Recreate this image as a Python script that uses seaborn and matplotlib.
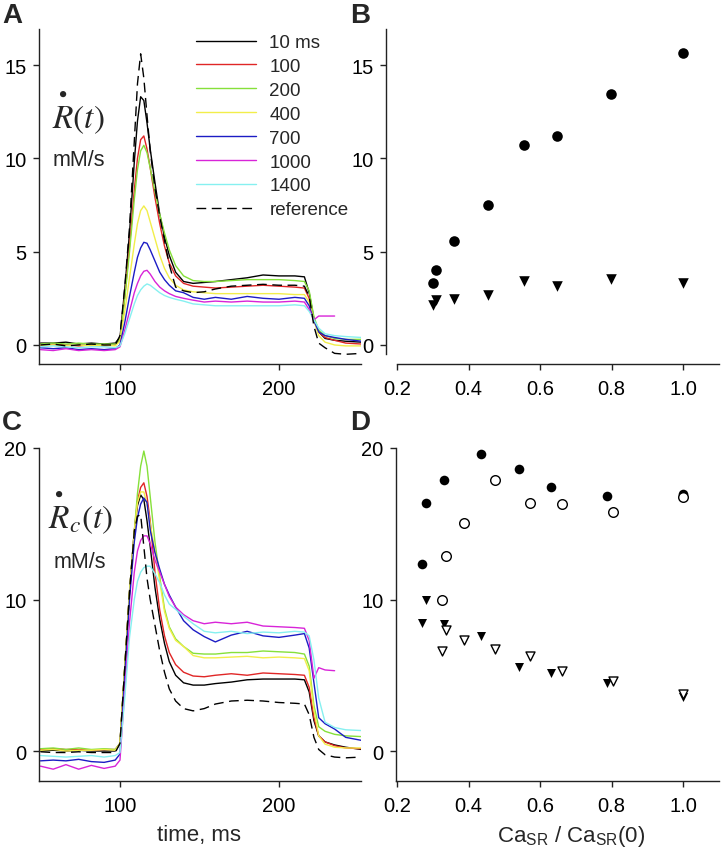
import matplotlib
matplotlib.use('Agg')
import matplotlib.pyplot as plt
import numpy as np
import pandas as pd
import seaborn as sns

sns.set_theme(style="ticks")
plt.rcParams['font.family'] = ['Liberation Sans', 'DejaVu Sans']

W, H = 721, 853

# time grid shared by every trace (ms)
time_ms = [50, 58, 66, 74, 82, 90, 97, 100, 103, 106, 109, 111, 113, 115, 117, 119, 122, 125, 128,
           131, 135, 140, 146, 153, 160, 170, 180, 190, 200, 210, 216, 219, 222, 225, 229, 235, 242, 252]
nan = np.nan

series_names = ["10 ms", "100", "200", "400", "700", "1000", "1400", "reference"]
series_colors = ["#000000", "#e02626", "#86e03a", "#f2ee4a", "#1c1cc4", "#d824d8", "#86f0f0", "#000000"]

# panel A: release flux R(t), mM/s
a_10ms = [0.1, 0.1, 0.15, 0.05, 0.1, 0.05, 0.1, 0.4, 3.0, 6.0, 9.8, 12.0, 13.3, 13.1, 11.9, 10.5, 8.7, 7.0, 5.8,
          4.8, 3.9, 3.4, 3.3, 3.35, 3.4, 3.5, 3.6, 3.75, 3.7, 3.7, 3.65, 2.8, 1.4, 0.7, 0.35, 0.25, 0.2, 0.15]
a_100 = [0.0, 0.05, 0.0, -0.05, 0.0, -0.05, 0.0, 0.3, 2.6, 5.3, 8.3, 10.0, 11.0, 11.2, 10.5, 9.5, 7.9, 6.5, 5.3,
         4.4, 3.7, 3.3, 3.15, 3.1, 3.05, 3.1, 3.15, 3.2, 3.15, 3.1, 3.05, 2.5, 1.3, 0.7, 0.4, 0.25, 0.1, 0.05]
a_200 = [0.05, 0.1, 0.05, 0.1, 0.05, 0.05, 0.05, 0.3, 2.5, 5.0, 7.8, 9.4, 10.4, 10.7, 10.3, 9.5, 8.2, 7.0, 6.0,
         5.1, 4.25, 3.7, 3.45, 3.4, 3.4, 3.45, 3.5, 3.5, 3.5, 3.45, 3.4, 2.9, 1.5, 0.8, 0.5, 0.35, 0.3, 0.3]
a_400 = [0.0, 0.0, -0.05, 0.0, -0.05, 0.0, -0.05, 0.2, 1.8, 3.6, 5.4, 6.5, 7.2, 7.45, 7.2, 6.6, 5.7, 4.8, 4.1,
         3.6, 3.2, 2.95, 2.85, 2.8, 2.75, 2.75, 2.75, 2.75, 2.75, 2.7, 2.7, 2.3, 1.3, 0.5, 0.15, 0.0, -0.05, -0.05]
a_700 = [-0.15, -0.2, -0.15, -0.25, -0.2, -0.25, -0.2, 0.0, 1.2, 2.6, 3.9, 4.7, 5.2, 5.5, 5.45, 5.1, 4.5, 3.9, 3.5,
         3.2, 2.9, 2.8, 2.55, 2.45, 2.55, 2.45, 2.6, 2.5, 2.45, 2.55, 2.5, 2.1, 1.3, 0.7, 0.5, 0.4, 0.3, 0.2]
a_1000 = [-0.25, -0.3, -0.2, -0.3, -0.25, -0.3, -0.25, -0.1, 0.8, 1.8, 2.8, 3.3, 3.7, 3.95, 4.0, 3.8, 3.4, 3.1, 2.9,
          2.75, 2.6, 2.5, 2.4, 2.3, 2.35, 2.3, 2.35, 2.3, 2.3, 2.35, 2.3, 1.9, 1.35, 1.55, 1.55, 1.55, nan, nan]
a_1400 = [-0.1, -0.05, -0.1, -0.15, -0.1, -0.1, -0.15, -0.05, 0.6, 1.4, 2.2, 2.65, 2.95, 3.15, 3.27, 3.2, 3.0, 2.8, 2.65,
          2.55, 2.45, 2.35, 2.2, 2.15, 2.1, 2.1, 2.1, 2.1, 2.1, 2.15, 2.1, 1.8, 1.35, 0.9, 0.6, 0.5, 0.45, 0.4]
a_ref = [0.0, 0.05, -0.05, 0.0, 0.05, 0.0, 0.0, 0.5, 3.1, 6.3, 10.9, 14.0, 15.6, 14.3, 12.3, 10.4, 8.4, 6.9, 5.6,
         4.3, 3.1, 2.9, 2.8, 2.85, 3.0, 3.15, 3.2, 3.25, 3.2, 3.2, 3.15, 2.6, 1.0, 0.1, -0.15, -0.45, -0.5, -0.45]

# panel C: corrected release flux Rc(t), mM/s
c_10ms = [0.0, 0.05, 0.0, 0.05, 0.0, 0.0, 0.0, 0.5, 5.5, 10.5, 14.5, 16.2, 16.9, 16.6, 15.2, 13.5, 10.8, 8.7, 7.1,
          5.9, 5.0, 4.5, 4.35, 4.35, 4.45, 4.55, 4.7, 4.75, 4.75, 4.75, 4.7, 3.9, 2.0, 1.0, 0.6, 0.4, 0.25, 0.1]
c_100 = [0.1, 0.15, 0.1, 0.1, 0.05, 0.1, 0.1, 0.5, 5.5, 10.5, 14.5, 16.5, 17.4, 17.7, 16.8, 15.2, 11.8, 9.3, 7.6,
         6.5, 5.7, 5.2, 4.95, 4.9, 5.0, 5.1, 5.0, 5.15, 5.1, 5.05, 5.0, 4.2, 2.2, 1.0, 0.6, 0.35, 0.2, 0.15]
c_200 = [0.15, 0.2, 0.1, 0.2, 0.1, 0.15, 0.1, 0.5, 5.5, 10.5, 14.5, 17.0, 18.8, 19.8, 18.8, 16.8, 13.8, 11.5, 9.4,
         8.2, 7.4, 6.9, 6.45, 6.4, 6.4, 6.5, 6.5, 6.6, 6.55, 6.5, 6.4, 5.6, 3.0, 1.6, 1.3, 1.1, 1.0, 0.95]
c_400 = [0.05, 0.1, 0.0, 0.05, 0.05, 0.1, 0.05, 0.5, 5.5, 10.5, 14.5, 16.4, 17.1, 17.1, 16.3, 15.0, 13.2, 11.2, 9.2,
         8.1, 7.3, 6.9, 6.3, 6.15, 6.15, 6.2, 6.25, 6.15, 6.2, 6.15, 6.1, 5.3, 2.7, 1.0, 0.45, 0.25, 0.2, 0.2]
c_700 = [-0.65, -0.6, -0.65, -0.55, -0.7, -0.75, -0.6, -0.2, 5.0, 10.0, 13.8, 15.4, 16.3, 16.7, 16.4, 14.6, 13.1, 12.0, 11.0,
         10.3, 9.5, 8.6, 8.0, 7.55, 7.2, 7.65, 7.9, 7.6, 7.5, 7.65, 7.75, 6.8, 4.5, 2.2, 1.8, 1.45, 0.9, 0.7]
c_1000 = [-1.0, -1.2, -0.9, -1.2, -0.95, -1.15, -1.0, -0.6, 4.0, 8.5, 11.8, 13.2, 13.9, 14.2, 14.2, 13.7, 12.6, 11.8, 11.0,
          10.2, 9.5, 9.0, 8.6, 8.4, 8.5, 8.4, 8.5, 8.25, 8.2, 8.15, 8.1, 7.3, 4.8, 5.5, 5.35, 5.3, nan, nan]
c_1400 = [-0.3, -0.35, -0.4, -0.35, -0.3, -0.4, -0.3, -0.1, 3.5, 7.5, 10.0, 11.2, 11.8, 12.1, 12.2, 12.2, 11.7, 11.1, 10.3,
          9.7, 9.35, 8.9, 8.4, 7.9, 7.8, 7.9, 7.75, 7.85, 7.8, 7.9, 7.85, 7.6, 6.0, 3.5, 1.9, 1.55, 1.4, 1.35]
c_ref = [-0.05, -0.1, -0.1, -0.05, -0.1, -0.1, -0.1, 0.5, 5.5, 10.5, 14.5, 15.5, 15.6, 13.5, 11.4, 10.0, 8.3, 6.6, 5.2,
         4.1, 3.3, 2.8, 2.65, 2.8, 3.1, 3.3, 3.35, 3.3, 3.2, 3.15, 3.1, 2.4, 0.9, 0.1, -0.25, -0.4, -0.45, -0.4]

# panel B: peak and plateau of R vs Ca_SR / Ca_SR(0)
b_ratio = [0.30, 0.31, 0.36, 0.455, 0.555, 0.647, 0.797, 1.0]
b_peak = [3.3, 4.0, 5.55, 7.5, 10.7, 11.2, 13.45, 15.65]
b_plateau = [2.15, 2.4, 2.45, 2.7, 3.45, 3.15, 3.55, 3.3]

# panel D: peak and plateau of Rc, two series (filled / open)
d_ratio_filled = [0.27, 0.282, 0.332, 0.434, 0.54, 0.631, 0.788, 1.0]
d_peak_filled = [12.35, 16.35, 17.9, 19.6, 18.6, 17.45, 16.85, 16.95]
d_plateau_filled = [8.45, 9.95, 8.4, 7.6, 5.55, 5.15, 4.5, 3.55]
d_ratio_open = [0.326, 0.336, 0.386, 0.475, 0.573, 0.66, 0.805, 1.0]
d_peak_open = [9.99, 12.9, 15.05, 17.9, 16.35, 16.3, 15.75, 16.75]
d_plateau_open = [6.6, 8.0, 7.35, 6.75, 6.25, 5.25, 4.6, 3.75]


def long_frame(traces):
    rows = []
    for name, vals in zip(series_names, traces):
        rows.append(pd.DataFrame({"time": time_ms, "rate": vals, "series": name}))
    return pd.concat(rows, ignore_index=True)


df_a = long_frame([a_10ms, a_100, a_200, a_400, a_700, a_1000, a_1400, a_ref])
df_c = long_frame([c_10ms, c_100, c_200, c_400, c_700, c_1000, c_1400, c_ref])
palette = dict(zip(series_names, series_colors))
dash_map = {n: "" for n in series_names}
dash_map["reference"] = (7, 4)

fig = plt.figure(figsize=(W / 100, H / 100), dpi=100)


def px_axes(l, t, r, b):
    return fig.add_axes([l / W, 1 - b / H, (r - l) / W, (b - t) / H])


def style_axes(ax):
    for side in ["top", "right"]:
        ax.spines[side].set_visible(False)
    for side in ["left", "bottom"]:
        ax.spines[side].set_color("#222222")
        ax.spines[side].set_linewidth(1.0)
    ax.tick_params(direction="out", length=4, width=1.0, color="#222222", labelsize=14.5,
                   labelcolor="black")
    ax.tick_params(axis="x", pad=7)
    ax.tick_params(axis="y", pad=5)
    ax.set_xlabel("")
    ax.set_ylabel("")


ax_a = px_axes(39, 30, 361, 365)
ax_b = px_axes(386, 30, 719, 365)
ax_c = px_axes(39, 449, 361, 782)
ax_d = px_axes(396, 449, 719, 782)

for ax, df in [(ax_a, df_a), (ax_c, df_c)]:
    sns.lineplot(data=df, x="time", y="rate", hue="series", style="series",
                 hue_order=series_names, style_order=series_names, palette=palette,
                 dashes=dash_map, linewidth=1.0, estimator=None, sort=False,
                 legend=(ax is ax_a), ax=ax)
    ax.set_xlim(49.06, 251.6)
    ax.set_xticks([100, 200])
    style_axes(ax)

ax_a.set_ylim(-1.02, 16.93)
ax_a.set_yticks([0, 5, 10, 15])
ax_c.set_ylim(-1.98, 20.0)
ax_c.set_yticks([0, 10, 20])

handles, labels = ax_a.get_legend_handles_labels()
ax_a.legend(handles, labels, loc="upper left", bbox_to_anchor=(0.488, 0.985), frameon=False,
            fontsize=13.5, handlelength=3.2, handletextpad=0.7, labelspacing=0.36,
            borderpad=0, borderaxespad=0)

# scatter panels
sns.scatterplot(x=b_ratio, y=b_peak, marker="o", color="black", s=58, linewidth=0, ax=ax_b)
sns.scatterplot(x=b_ratio, y=b_plateau, marker="v", color="black", s=58, linewidth=0, ax=ax_b)
ax_b.set_xlim(0.169, 1.10)
ax_b.set_ylim(-1.02, 16.93)
ax_b.set_yticks([0, 5, 10, 15])
ax_b.set_xticks([0.2, 0.4, 0.6, 0.8, 1.0])
style_axes(ax_b)
ax_b.spines["bottom"].set_bounds(0.2, 1.10)
ax_b.spines["left"].set_bounds(-0.5, 16.93)

sns.scatterplot(x=d_ratio_filled, y=d_peak_filled, marker="o", color="black", s=48, linewidth=0, ax=ax_d)
sns.scatterplot(x=d_ratio_open, y=d_peak_open, marker="o", color="white", edgecolor="black",
                s=48, linewidth=1.0, ax=ax_d)
sns.scatterplot(x=d_ratio_filled, y=d_plateau_filled, marker="v", color="black", s=42, linewidth=0, ax=ax_d)
sns.scatterplot(x=d_ratio_open, y=d_plateau_open, marker="v", color="white", edgecolor="black",
                s=42, linewidth=1.0, ax=ax_d)
ax_d.set_xlim(0.197, 1.10)
ax_d.set_ylim(-1.98, 20.0)
ax_d.set_yticks([0, 10, 20])
ax_d.set_xticks([0.2, 0.4, 0.6, 0.8, 1.0])
style_axes(ax_d)

# axis labels
ax_c.set_xlabel("time, ms", fontsize=16)
ax_c.xaxis.set_label_coords(0.497, -0.13)
ax_d.set_xlabel(r"Ca$_{\mathregular{SR}}$ / Ca$_{\mathregular{SR}}$(0)", fontsize=16)
ax_d.xaxis.set_label_coords(0.542, -0.127)


def ftext(x, y, s, **kw):
    fig.text(x / W, 1 - y / H, s, **kw)


# panel letters
for lx, ly, letter in [(2, 3, "A"), (350, 3, "B"), (2, 410, "C"), (350, 410, "D")]:
    ftext(lx, ly, letter, fontsize=20, fontweight="bold", va="top", ha="left")

# rate labels (dot-over-R drawn as part of the same mathtext string)
ftext(52, 128, r"$\overset{\bullet}{R}(t)$", fontsize=24, math_fontfamily="stix",
      ha="left", va="baseline")
ftext(79, 160, "mM/s", fontsize=15.5, ha="center", va="center")
ftext(48, 528, r"$\overset{\bullet}{R}_c(t)$", fontsize=24, math_fontfamily="stix",
      ha="left", va="baseline")
ftext(80, 562, "mM/s", fontsize=15.5, ha="center", va="center")

fig.savefig("out.png", dpi=100)
